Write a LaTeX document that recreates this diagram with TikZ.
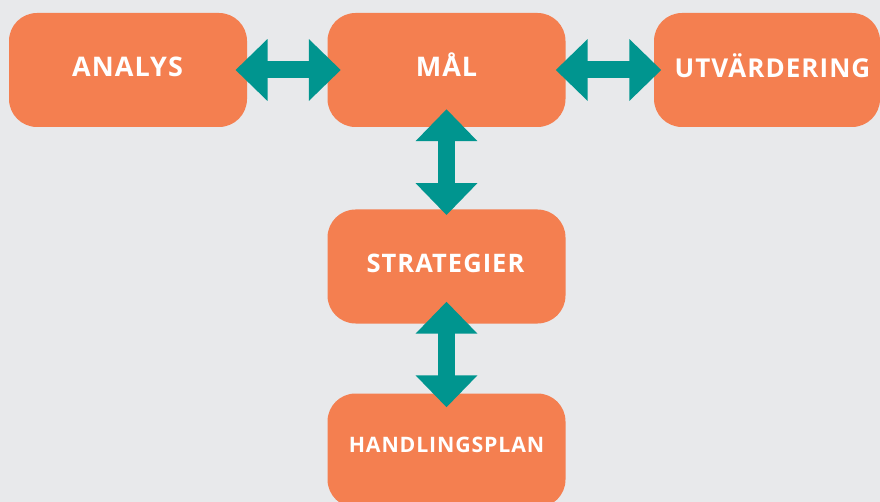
\documentclass[tikz,border=0pt]{standalone}
\usepackage{fontspec}
\setmainfont{Open Sans}[LetterSpace=4]
\usetikzlibrary{arrows.meta}
\definecolor{bgc}{HTML}{E8E9EB}
\definecolor{boxc}{HTML}{F47F50}
\definecolor{tealc}{HTML}{00958F}
\tikzset{
  stagebox/.style={fill=boxc, draw=none, rounded corners=28pt, minimum width=238pt, minimum height=114pt, inner sep=0pt},
  lbl/.style={text=white, font=\bfseries, inner sep=0pt},
  biarrow/.style={draw=tealc, line width=17pt, {Triangle[length=32pt,width=60pt]}-{Triangle[length=32pt,width=60pt]}},
}
\begin{document}
\begin{tikzpicture}[x=1pt,y=-1pt]
\fill[bgc] (0,0) rectangle (880,502);
\useasboundingbox (0,0) rectangle (880,502);
\node[stagebox] (analys) at (128,70) {};
\node[stagebox] (mal) at (446.5,70) {};
\node[stagebox, minimum width=226pt] (utv) at (767,70) {};
\node[stagebox] (strat) at (446.5,266.5) {};
\node[stagebox] (handl) at (446.5,450.5) {};
\node[lbl, font=\bfseries\fontsize{27}{30}\selectfont] (tanalys) at (127.5,67) {ANALYS};
\node[lbl, font=\bfseries\fontsize{27}{30}\selectfont] (tmal) at (446.5,65) {MÅL};
\node[lbl, font=\bfseries\fontsize{26}{30}\selectfont] (tutv) at (772.5,66) {UTVÄRDERING};
\node[lbl, font=\bfseries\fontsize{25.5}{28}\selectfont] (tstrat) at (445.5,263.5) {STRATEGIER};
\node[lbl, font=\bfseries\fontsize{21.3}{24}\selectfont] (thandl) at (446.5,445) {HANDLINGSPLAN};
\draw[biarrow] ([xshift=-11.7pt]analys.east) -- ([xshift=13.5pt]mal.west);
\draw[biarrow] ([xshift=-10pt]mal.east) -- ([xshift=7.5pt]utv.west);
\draw[biarrow] ([yshift=18pt]mal.south) -- ([yshift=-5.8pt]strat.north);
\draw[biarrow] ([yshift=22pt]strat.south) -- ([yshift=-14pt]handl.north);
\end{tikzpicture}
\end{document}
